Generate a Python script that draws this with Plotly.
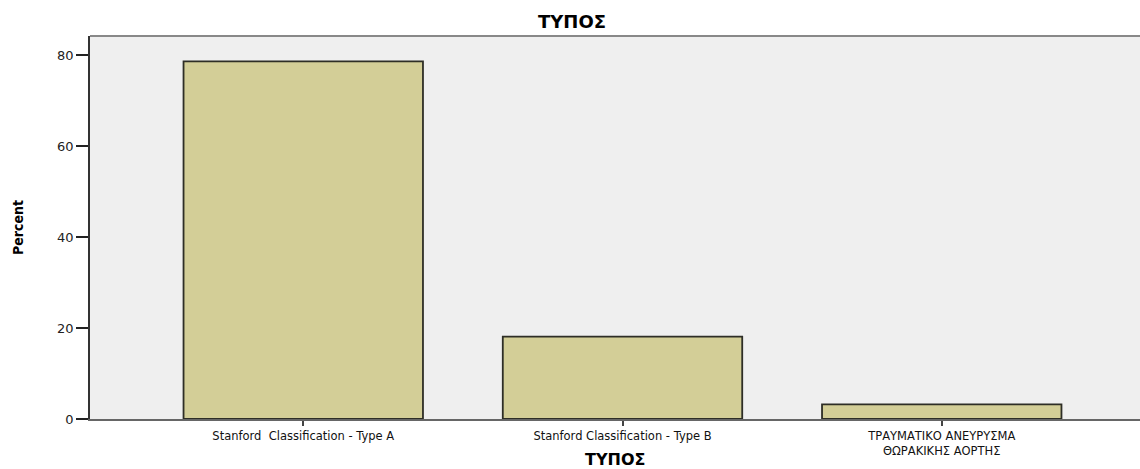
import plotly.graph_objects as go

categories = ["Stanford\u00a0 Classification - Type A",
              "Stanford Classification - Type B",
              "ΤΡΑΥΜΑΤΙΚΟ ΑΝΕΥΡΥΣΜΑ<br>ΘΩΡΑΚΙΚΗΣ ΑΟΡΤΗΣ"]
percent = [78.6, 18.1, 3.2]
y_ticks = [0, 20, 40, 60, 80]

W, H = 1140, 469

fig = go.Figure()
fig.add_trace(go.Bar(
    x=list(range(len(categories))), y=percent, width=0.75,
    marker=dict(color="#d3ce97", line=dict(color="#2e2e26", width=1.8)),
    hoverinfo="skip",
))

fig.update_layout(
    width=W, height=H,
    margin=dict(l=90, r=0, t=36, b=50, autoexpand=False),
    paper_bgcolor="white", plot_bgcolor="#efefef",
    showlegend=False,
    font=dict(family="DejaVu Sans, sans-serif", color="#111"),
    title=dict(text="<b>ΤΥΠΟΣ</b>", x=572 / W, xanchor="center", y=1 - 22 / H, yanchor="middle",
               font=dict(size=18, color="black", family="DejaVu Sans, sans-serif")),
    xaxis=dict(
        range=[-0.668, 2.621], tickmode="array",
        tickvals=list(range(len(categories))), ticktext=categories,
        ticks="outside", ticklen=5, tickcolor="#444", tickwidth=1.5,
        showline=True, linecolor="#666", linewidth=1.5,
        showgrid=False, zeroline=False, automargin=False,
        tickfont=dict(size=11.5, color="#111"),
    ),
    yaxis=dict(
        range=[0, 84.2], tickmode="array", tickvals=y_ticks,
        ticks="outside", ticklen=12, tickcolor="#222", tickwidth=1.5,
        showline=True, linecolor="#333", linewidth=1.5,
        showgrid=False, zeroline=False, automargin=False,
        tickfont=dict(size=13, color="#222"),
        title=dict(text="<b>Percent</b>", font=dict(size=14, family="DejaVu Sans Condensed, Liberation Sans Narrow, sans-serif", color="black"), standoff=30),
    ),
    shapes=[dict(type="line", xref="paper", yref="paper", x0=0, x1=1, y0=1, y1=1,
                 line=dict(color="#888", width=2))],
    annotations=[dict(text="<b>ΤΥΠΟΣ</b>", xref="paper", yref="paper", x=0.5, y=0,
                      yshift=-(459 - 419), xanchor="center", yanchor="middle", showarrow=False,
                      font=dict(size=16, color="black"))],
)

fig.write_html("out.html", config={"displayModeBar": False},
               post_script="document.body.style.margin='0';document.body.style.overflow='hidden';")
